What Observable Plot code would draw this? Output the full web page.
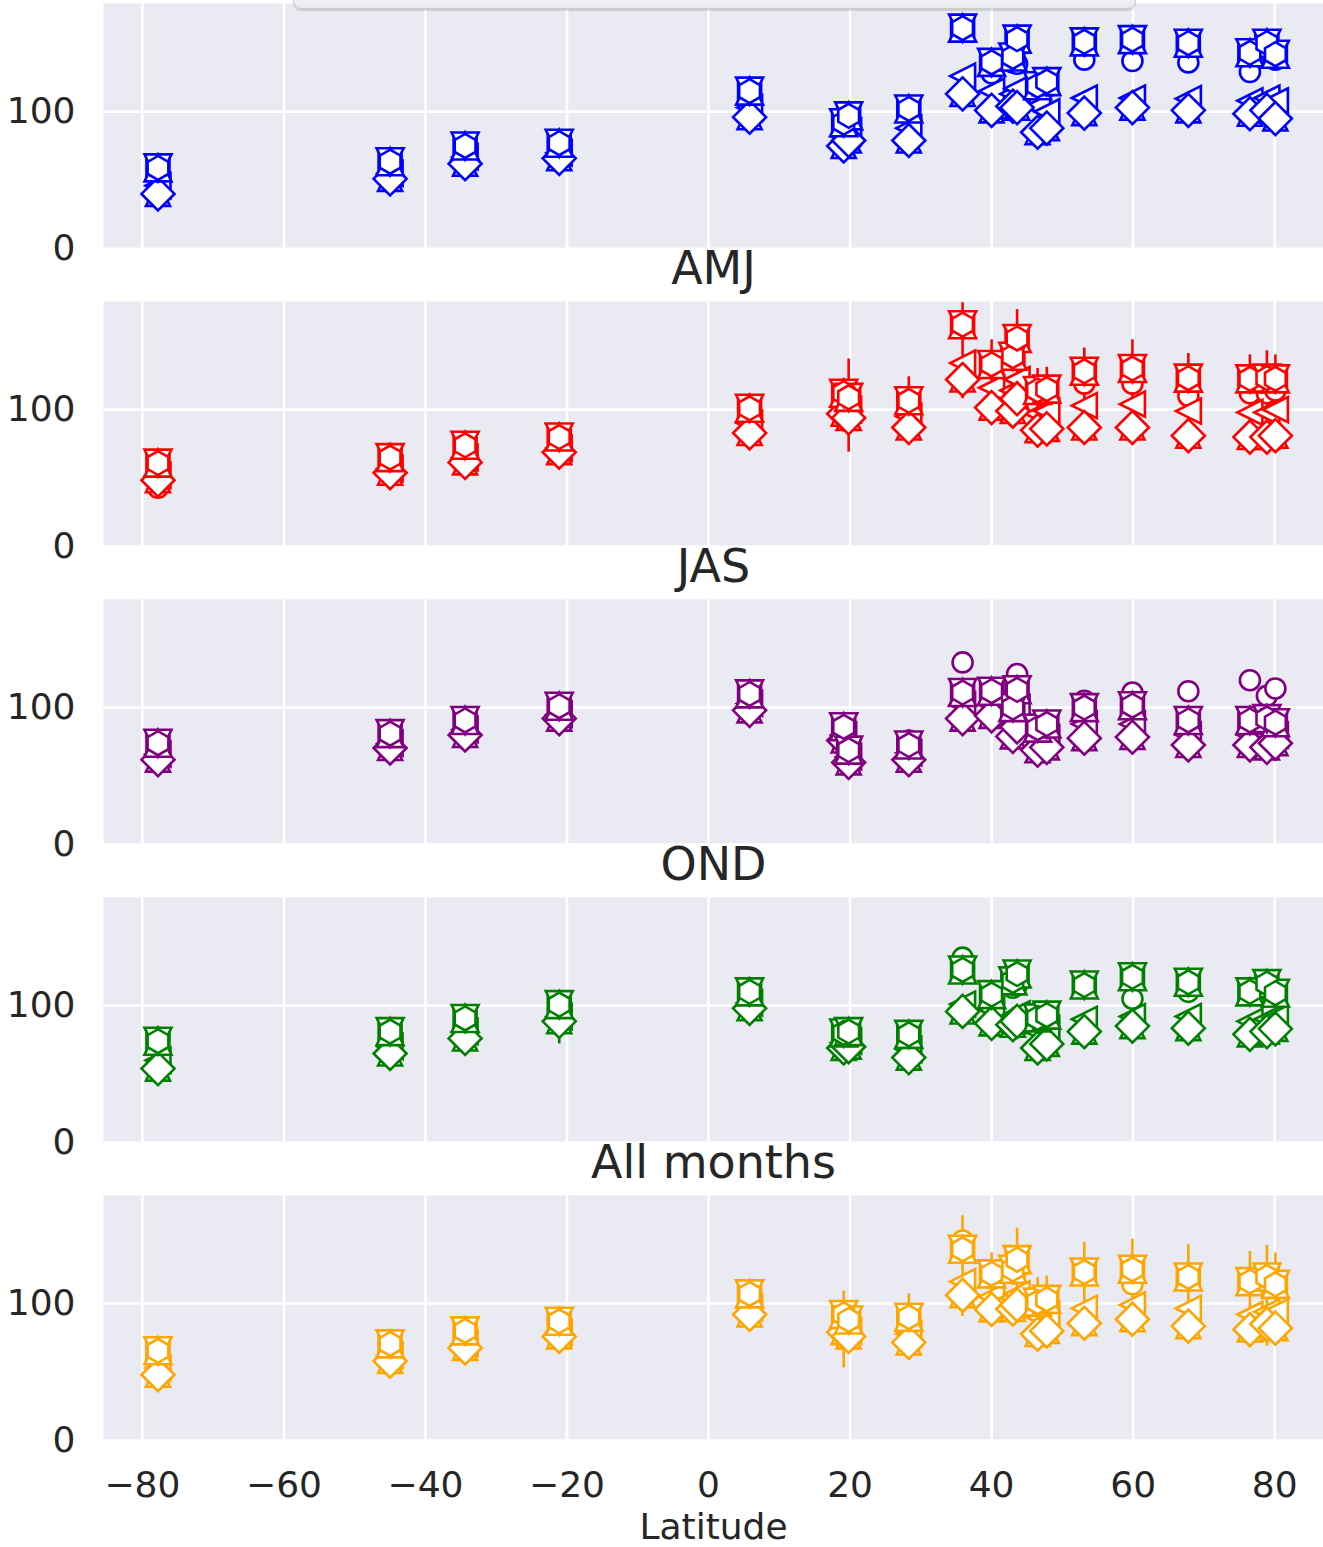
<!DOCTYPE html>
<html>
<head>
<meta charset="utf-8">
<script src="https://cdn.jsdelivr.net/npm/d3@7"></script>
<script src="https://cdn.jsdelivr.net/npm/@observablehq/plot@0.6"></script>
<style>
  html, body { margin: 0; padding: 0; background: white; }
  #wrap { position: relative; width: 1323px; height: 1547px; overflow: hidden; }
  #legendbox {
    position: absolute; left: 293px; top: -60px; width: 841px; height: 67px;
    border: 1.5px solid #cccccc; border-radius: 8px;
    background: rgba(234,234,242,0.8);
    box-shadow: 0 2px 1px rgba(0,0,0,0.13);
    z-index: 2;
  }
</style>
</head>
<body>
<div id="wrap"><div id="legendbox"></div></div>
<script>
// ---- data ----
const panels = ["JFM", "AMJ", "JAS", "OND", "All months"];
const panelColors = ["#0000ff", "#ff0000", "#800080", "#008000", "#ffa500"];
const lat = [-77.8, -45.0, -34.4, -21.1, 5.8, 19.1, 19.8, 28.3, 35.9, 40.0, 43.0, 43.6, 46.5, 47.8, 53.1, 59.9, 67.8, 76.5, 78.9, 80.1];
const xTicks = [-80, -60, -40, -20, 0, 20, 40, 60, 80];
const yTicks = [0, 100];

// JFM
const jfmUpper  = [59, 63.5, 75, 77, 115, 92, 97, 102, 161, 136, 140, 153, 119, 122, 151, 152.6, 150, 143, 150, 142];
const jfmCircle = [59, 63, 75, 77, 114, 91, 96, 101, 160, 128, 136, 135, 117, 118, 138, 137, 136, 129, 140, 138];
const jfmTri    = [46, 55, 67, 70, 103, 82, 86, 88, 126, 115, 113, 117, 104, 100, 110, 110, 109.5, 108, 110, 108];
const jfmDia    = [40, 51, 62, 66, 96, 75, 79, 79, 113, 101, 104, 103, 85, 88, 99, 103, 101, 98.5, 101, 95];
const jfmErrTop = [];
const jfmErrBot = [];

// AMJ
const amjUpper  = [61, 65, 74, 80, 101, 112, 109, 106.5, 162, 133, 139, 152, 114, 115, 128, 130, 123, 122.5, 123, 122.5];
const amjCircle = [43, 64, 73, 79, 100, 110, 108, 105, 160, 131, 137, 150, 112, 113, 119, 119, 110, 112, 112, 114];
const amjTri    = [52, 57, 65, 72, 90, 102, 100, 95, 134, 116, 114, 122, 97, 99, 103, 104, 99, 98, 98, 100];
const amjDia    = [48.5, 54, 61.5, 69, 83, 97, 94, 87, 122, 101.5, 99, 108, 85, 86, 87, 87, 81, 80, 80, 81];
const amjErrTop = [null, null, null, null, null, null, 137, 124, 178, 151, null, 173, 130, 131, 145, 151, 141, 140, 143, 140];
const amjErrBot = [null, null, null, null, null, null, 69, 74, 108, 95, null, 100, 78, 78, 80, 74, 74, 68, 68, 72];

// JAS
const jasUpper  = [74, 81, 90.6, 101, 110, 86, 69, 72.7, 111, 112, 100, 113, 85, 88, 100, 101.4, 90.6, 90.6, 92, 89];
const jasCircle = [74, 81, 90, 100, 109, 85, 68, 76, 133, 110, 99, 124.5, 84, 87, 105, 111, 112, 120, 108.6, 114];
const jasTri    = [66, 74, 84, 95, 103, 80, 64, 67, 102, 102, 88, 100, 76, 78, 88, 88, 80, 80, 80, 80];
const jasDia    = [62, 70.5, 80, 92, 98, 76, 60, 62, 92, 94, 79, 86, 69, 71, 77.7, 78.5, 72.7, 72.7, 71, 74];
const jasErrTop = [];
const jasErrBot = [];

// OND
const ondUpper  = [74, 81, 90.6, 100.7, 110, 80, 81, 79, 126, 108, 118, 123, 91, 93, 115, 121, 117, 110, 116, 109];
const ondCircle = [74, 80, 90, 100, 109, 79, 80, 78, 135, 107, 113, 115, 90, 91, 114, 105, 110, 109, 114, 108];
const ondTri    = [60, 70, 81, 92, 102, 73, 74, 68, 101, 97, 92, 94, 81, 83, 90, 92, 92, 88.5, 90, 91];
const ondDia    = [54, 65, 76, 88.5, 98, 69, 70, 62, 95.7, 87, 86, 88.5, 69, 72, 81, 85, 83.5, 79, 81, 83];
const ondErrTop = [null, null, null, 101];
const ondErrBot = [null, null, null, 72];

// All months
const allUpper  = [65.5, 70.5, 80, 87, 107, 92, 88, 90, 139.6, 121.6, 125, 132, 101, 103, 123, 125, 119.4, 116, 119.4, 114];
const allCircle = [65, 70, 79, 86, 106, 91, 87, 89, 146, 120, 122, 125, 100, 101, 121, 114, 117, 114, 117, 113];
const allTri    = [53, 62, 71, 79, 97, 83, 80, 78, 116, 105, 104, 107, 90.6, 92, 96.4, 99, 96.4, 92, 94, 94];
const allDia    = [48, 58, 67.6, 76, 92, 79, 76, 71.6, 106, 95.7, 96, 99, 77.7, 80, 85.6, 88.5, 83.5, 81, 85, 82];
const allErrTop = [null, null, null, null, null, 109, null, 107, 164, 137, null, 155, 119, 120, 144.6, 147, 143, 138, 142.5, 137];
const allErrBot = [null, null, null, null, null, 53, null, 65, 90.6, 88, null, 90, 70, 70, 78, 80, 76, 72, 69, 72];

// ---- assemble table ----
const sets = [
  {panel: "JFM", upper: jfmUpper, circle: jfmCircle, tri: jfmTri, dia: jfmDia, top: jfmErrTop, bot: jfmErrBot},
  {panel: "AMJ", upper: amjUpper, circle: amjCircle, tri: amjTri, dia: amjDia, top: amjErrTop, bot: amjErrBot},
  {panel: "JAS", upper: jasUpper, circle: jasCircle, tri: jasTri, dia: jasDia, top: jasErrTop, bot: jasErrBot},
  {panel: "OND", upper: ondUpper, circle: ondCircle, tri: ondTri, dia: ondDia, top: ondErrTop, bot: ondErrBot},
  {panel: "All months", upper: allUpper, circle: allCircle, tri: allTri, dia: allDia, top: allErrTop, bot: allErrBot}
];
const rows = sets.flatMap(s => lat.map((l, i) => ({
  panel: s.panel, lat: l,
  upper: s.upper[i], circle: s.circle[i], tri: s.tri[i], dia: s.dia[i],
  top: s.top[i] ?? null, bot: s.bot[i] ?? null
})));
const errRows = rows.filter(d => d.top != null && d.bot != null);
const titleRows = panels.slice(1).map(p => ({panel: p}));

// ---- marker shapes (matplotlib-like) ----
const rad = s => Math.sqrt(s / Math.PI);
const symSquare = {draw(c, s) { const a = rad(s); c.moveTo(-a, -a); c.lineTo(a, -a); c.lineTo(a, a); c.lineTo(-a, a); c.closePath(); }};
const symTriUp = {draw(c, s) { const a = rad(s); c.moveTo(0, -a); c.lineTo(a, a); c.lineTo(-a, a); c.closePath(); }};
const symTriDown = {draw(c, s) { const a = rad(s); c.moveTo(0, a); c.lineTo(a, -a); c.lineTo(-a, -a); c.closePath(); }};
const symTriLeft = {draw(c, s) { const a = rad(s); c.moveTo(-a, 0); c.lineTo(a, -a); c.lineTo(a, a); c.closePath(); }};
const symDiamond = {draw(c, s) { const a = rad(s); c.moveTo(0, -a); c.lineTo(a, 0); c.lineTo(0, a); c.lineTo(-a, 0); c.closePath(); }};
const symHex = {draw(c, s) {
  const a = rad(s);
  for (let k = 0; k < 6; k++) {
    const ang = -Math.PI / 2 + k * Math.PI / 3;
    const px = a * Math.cos(ang), py = a * Math.sin(ang);
    if (k === 0) c.moveTo(px, py); else c.lineTo(px, py);
  }
  c.closePath();
}};

const sw = 2.6;
const common = {x: "lat", fy: "panel", stroke: "panel", fill: "white", strokeWidth: sw};

const chart = Plot.plot({
  width: 1323,
  height: 1547,
  marginLeft: 103,
  marginRight: 0,
  marginTop: 3,
  marginBottom: 107,
  style: {fontFamily: "DejaVu Sans", color: "#262626", background: "transparent"},
  x: {domain: [-85.5, 86.9]},
  y: {domain: [0, 179]},
  fy: {domain: panels, axis: null, paddingInner: 0.177, paddingOuter: 0, round: false},
  color: {domain: panels, range: panelColors},
  marks: [
    Plot.frame({fill: "#eaeaf2", stroke: null}),
    Plot.gridX({ticks: xTicks, stroke: "white", strokeOpacity: 1, strokeWidth: 2.6}),
    Plot.gridY({ticks: yTicks, stroke: "white", strokeOpacity: 1, strokeWidth: 2.6}),
    Plot.ruleX(errRows, {x: "lat", y1: "bot", y2: "top", fy: "panel", stroke: "panel", strokeWidth: sw}),
    Plot.dot(rows, {...common, y: "circle", symbol: "circle", r: 10}),
    Plot.dot(rows, {...common, y: "tri", symbol: symTriLeft, r: 12.5}),
    Plot.dot(rows, {...common, y: "dia", symbol: symTriUp, r: 12}),
    Plot.dot(rows, {...common, y: "dia", symbol: symDiamond, r: 16.5}),
    Plot.dot(rows, {...common, y: "upper", symbol: symSquare, r: 11.5}),
    Plot.dot(rows, {...common, y: "upper", symbol: symTriUp, r: 13.5}),
    Plot.dot(rows, {...common, y: "upper", symbol: symTriDown, r: 13.5}),
    Plot.dot(rows, {...common, y: "upper", symbol: symHex, r: 12}),
    Plot.text(titleRows, {fy: "panel", text: "panel", frameAnchor: "top", lineAnchor: "middle", dy: -32, fontSize: 46, fill: "#262626"}),
    Plot.axisY({ticks: yTicks, tickSize: 0, tickPadding: 28, fontSize: 36, label: null}),
    Plot.axisX({ticks: xTicks, tickSize: 0, tickPadding: 31, fontSize: 36, label: "Latitude", labelAnchor: "center", labelArrow: "none", labelOffset: 98})
  ]
});
document.getElementById("wrap").appendChild(chart);
</script>
</body>
</html>
